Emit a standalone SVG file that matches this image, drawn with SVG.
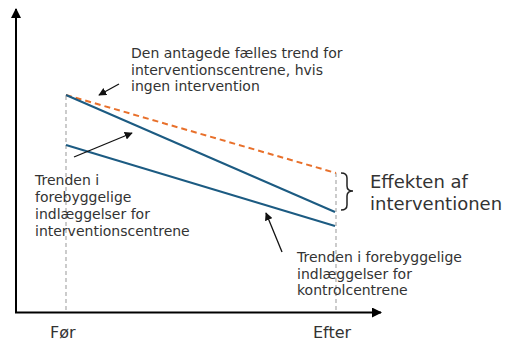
<svg xmlns="http://www.w3.org/2000/svg" width="507" height="341" viewBox="0 0 507 341">
<style>
text{font-family:"DejaVu Sans","Liberation Sans",sans-serif;fill:#333;}
.lbl{font-size:14px;}
.big{font-size:18px;}
.tick{font-size:16px;}
.guide{stroke:#aaa;stroke-width:1.2;stroke-dasharray:4,3;fill:none;}
.blue{stroke:#1c5b82;stroke-width:2;fill:none;}
.orange{stroke:#e8702b;stroke-width:2;stroke-dasharray:6,4;fill:none;}
.axis{stroke:#000;stroke-width:2;fill:none;}
.ann{stroke:#111;stroke-width:1.3;fill:none;}
</style>
<defs>
<marker id="ax" viewBox="0 0 10 10" refX="9" refY="5" markerWidth="10" markerHeight="10" markerUnits="userSpaceOnUse" orient="auto">
<path d="M0,0 L10,5 L0,10 Z" fill="#000"/>
</marker>
<marker id="ah" viewBox="0 0 10 10" refX="9" refY="5" markerWidth="8" markerHeight="8" markerUnits="userSpaceOnUse" orient="auto">
<path d="M0,0 L10,5 L0,10 Z" fill="#111"/>
</marker>
</defs>
<g id="axes">
<line class="axis" x1="16" y1="313" x2="16" y2="9" marker-end="url(#ax)"/>
<line class="axis" x1="15" y1="312.5" x2="381" y2="312.5" marker-end="url(#ax)"/>
</g>
<g id="guides">
<line class="guide" x1="66" y1="96" x2="66" y2="312"/>
<line class="guide" x1="336" y1="173" x2="336" y2="312"/>
</g>
<g id="trend-assumed">
<line class="orange" x1="66" y1="95" x2="336" y2="173"/>
</g>
<g id="trend-intervention">
<line class="blue" x1="66" y1="95" x2="335" y2="212"/>
</g>
<g id="trend-control">
<line class="blue" x1="66" y1="145" x2="335" y2="226"/>
</g>
<g id="brace">
<path d="M341,173 Q347,173 347,178 L347,186 Q347,191 353,191 Q347,191 347,196 L347,205 Q347,210 341,210" fill="none" stroke="#222" stroke-width="1.5"/>
</g>
<g id="connectors">
<line class="ann" x1="119" y1="84" x2="99" y2="95" marker-end="url(#ah)"/>
<line class="ann" x1="74" y1="157" x2="132" y2="133" marker-end="url(#ah)"/>
<line class="ann" x1="282" y1="252" x2="266" y2="213" marker-end="url(#ah)"/>
</g>
<g id="label-assumed">
<text class="lbl" x="131" y="58">Den antagede fælles trend for</text>
<text class="lbl" x="131" y="74.5">interventionscentrene, hvis</text>
<text class="lbl" x="131" y="91">ingen intervention</text>
</g>
<g id="label-intervention">
<text class="lbl" x="35" y="185">Trenden i</text>
<text class="lbl" x="35" y="202">forebyggelige</text>
<text class="lbl" x="35" y="219">indlæggelser for</text>
<text class="lbl" x="35" y="236">interventionscentrene</text>
</g>
<g id="label-control">
<text class="lbl" x="297" y="262">Trenden i forebyggelige</text>
<text class="lbl" x="297" y="278.5">indlæggelser for</text>
<text class="lbl" x="297" y="295">kontrolcentrene</text>
</g>
<g id="label-effect">
<text class="big" x="370" y="188">Effekten af</text>
<text class="big" x="370" y="210">interventionen</text>
</g>
<g id="label-before">
<text class="tick" x="50" y="338">Før</text>
</g>
<g id="label-after">
<text class="tick" x="313" y="338">Efter</text>
</g>
</svg>
